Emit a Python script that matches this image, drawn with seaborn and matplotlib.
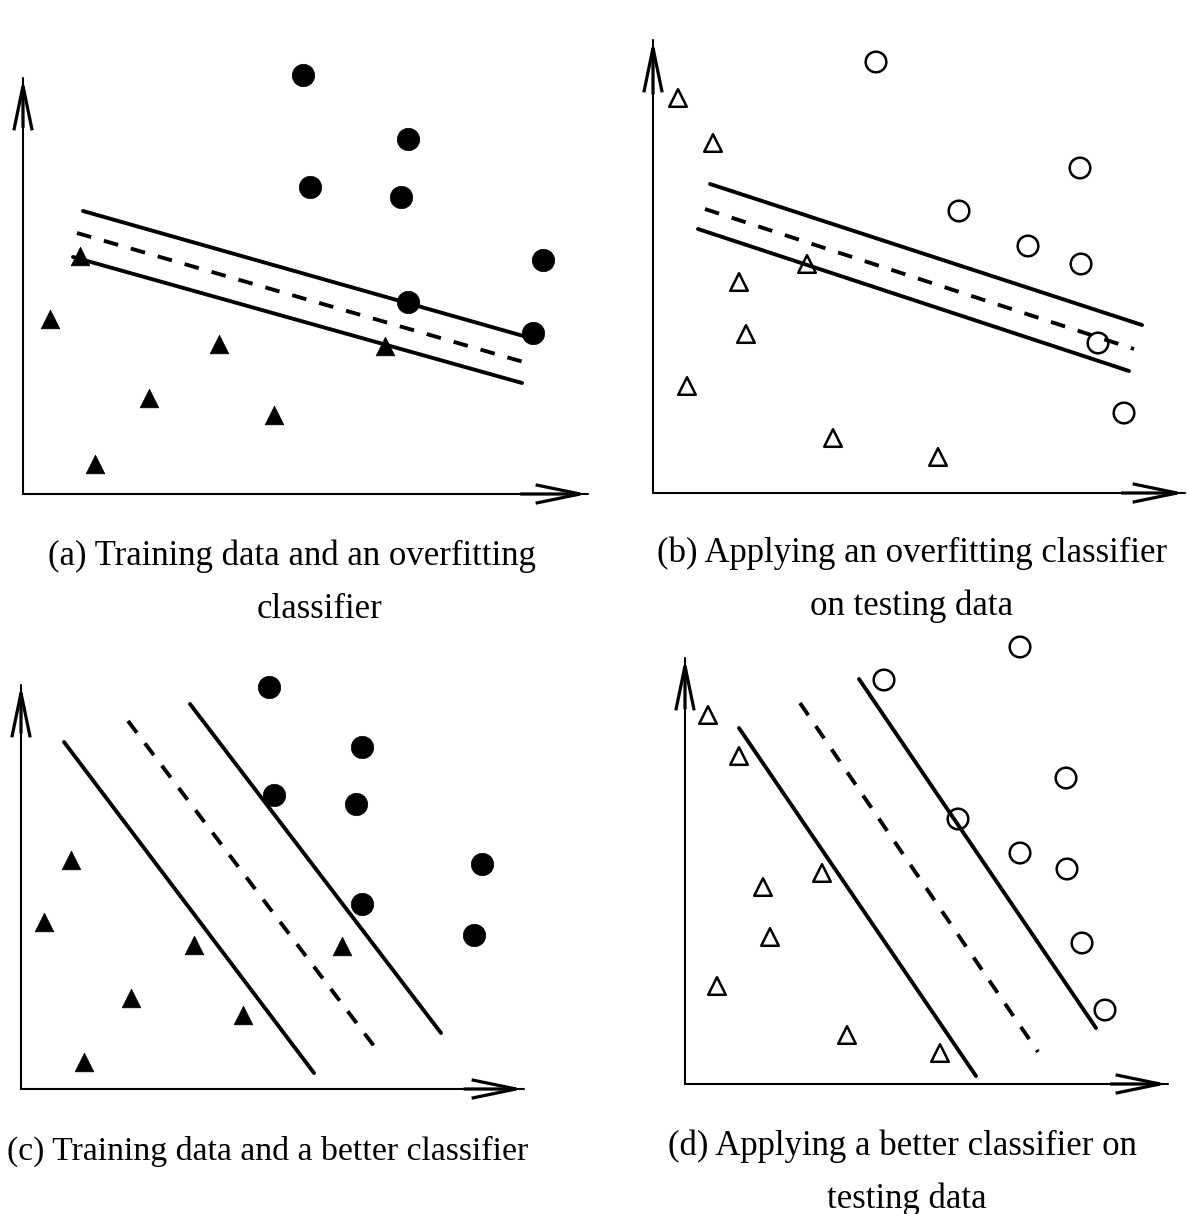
import numpy as np
import pandas as pd
import matplotlib
matplotlib.use("Agg")
import matplotlib.pyplot as plt
import seaborn as sns

# ---------------------------------------------------------------------------
# Data: two classes (circles = positive, triangles = negative) per panel,
# plus the classifier (dashed) and its two margin lines (solid).
# ---------------------------------------------------------------------------

# (a) training data, overfitting classifier
a_pos_x = [280, 385, 287, 378, 520, 385, 510]
a_pos_y = [419, 355, 307, 297, 234, 192, 161]
a_neg_x = [57, 27, 196, 126, 362, 251, 72]
a_neg_y = [238, 175, 150, 96, 148, 79, 30]
a_upper_x, a_upper_y = [60, 504], [283, 157]
a_mid_x, a_mid_y = [54, 504], [261, 131]
a_lower_x, a_lower_y = [50, 499], [237, 111]

# (b) testing data, overfitting classifier
b_pos_x = [223, 427, 306, 375, 428, 445, 471]
b_pos_y = [431, 325, 282, 247, 229, 150, 80]
b_neg_x = [25, 60, 86, 93, 34, 154, 180, 285]
b_neg_y = [395, 350, 211, 159, 107, 229, 55, 36]
b_upper_x, b_upper_y = [57, 489], [309, 168]
b_mid_x, b_mid_y = [52, 481], [284, 144]
b_lower_x, b_lower_y = [45, 476], [264, 122]

# (c) training data, better classifier
c_pos_x = [248, 341, 253, 335, 461, 341, 453]
c_pos_y = [402, 342, 294, 285, 225, 185, 154]
c_neg_x = [50, 23, 173, 110, 321, 222, 63]
c_neg_y = [229, 167, 144, 91, 143, 74, 27]
c_left_x, c_left_y = [43, 293], [347, 16]
c_mid_x, c_mid_y = [107, 356], [368, 39]
c_right_x, c_right_y = [169, 420], [385, 56]

# (d) testing data, better classifier
d_pos_x = [335, 199, 381, 273, 335, 382, 397, 420]
d_pos_y = [437, 404, 306, 265, 231, 215, 141, 74]
d_neg_x = [23, 54, 137, 78, 85, 32, 162, 255]
d_neg_y = [369, 328, 211, 197, 147, 98, 49, 31]
d_left_x, d_left_y = [54, 291], [356, 8]
d_mid_x, d_mid_y = [115, 353], [381, 32]
d_right_x, d_right_y = [174, 411], [405, 56]

captions = {
    "a": ["(a) Training data and an overfitting", "classifier"],
    "b": ["(b) Applying an overfitting classifier", "on testing data"],
    "c": ["(c) Training data and a better classifier"],
    "d": ["(d) Applying a better classifier on", "testing data"],
}

# ---------------------------------------------------------------------------
sns.set_theme(style="white")
plt.rcParams["font.family"] = ["Liberation Serif", "DejaVu Serif"]

W, H = 1187, 1214
fig = plt.figure(figsize=(W / 100, H / 100), dpi=100)
fig.patch.set_facecolor("white")


def make_axes(ox, oy, xlen, ylen):
    ax = fig.add_axes([ox / W, 1 - oy / H, xlen / W, ylen / H])
    ax.set_xlim(0, xlen)
    ax.set_ylim(0, ylen)
    ax.axis("off")
    # plain axis shafts
    ax.annotate("", xy=(0, 1), xytext=(0, 0), xycoords="axes fraction",
                arrowprops=dict(arrowstyle="-", lw=1.5, color="black",
                                shrinkA=0, shrinkB=0))
    ax.annotate("", xy=(1, 0), xytext=(0, 0), xycoords="axes fraction",
                arrowprops=dict(arrowstyle="-", lw=1.5, color="black",
                                shrinkA=0, shrinkB=0))
    # heavier open arrow heads
    head = "->,head_length=1.6,head_width=0.33"
    for tip, start in [((0, 1), (0, 0.88)), ((1, 0), (0.88, 0))]:
        ax.annotate("", xy=tip, xytext=start, xycoords="axes fraction",
                    arrowprops=dict(arrowstyle=head, lw=2.3, color="black",
                                    mutation_scale=20, shrinkA=0, shrinkB=0,
                                    joinstyle="miter", capstyle="butt"))
    return ax


def draw_line(ax, xs, ys, dashed=False):
    ls = (0, (3.8, 3.4)) if dashed else "-"
    sns.lineplot(x=xs, y=ys, ax=ax, color="black", lw=2.8, linestyle=ls,
                 clip_on=False, legend=False)


def draw_points(ax, xs, ys, marker, size, filled):
    sns.scatterplot(x=xs, y=ys, ax=ax, marker=marker, s=size, color="black",
                    clip_on=False, legend=False)
    pc = ax.collections[-1]
    if filled:
        pc.set_facecolor("black")
        pc.set_edgecolor("black")
        pc.set_linewidth(0.5)
    else:
        pc.set_facecolor("none")
        pc.set_edgecolor("black")
        pc.set_linewidth(1.8)


# (a)
ax = make_axes(23, 494, 565, 416)
draw_line(ax, a_upper_x, a_upper_y)
draw_line(ax, a_mid_x, a_mid_y, dashed=True)
draw_line(ax, a_lower_x, a_lower_y)
draw_points(ax, a_pos_x, a_pos_y, "o", 260, True)
draw_points(ax, a_neg_x, a_neg_y, "^", 180, True)

# (b)
ax = make_axes(653, 493, 532, 453)
draw_line(ax, b_upper_x, b_upper_y)
draw_line(ax, b_mid_x, b_mid_y, dashed=True)
draw_line(ax, b_lower_x, b_lower_y)
draw_points(ax, b_pos_x, b_pos_y, "o", 220, False)
draw_points(ax, b_neg_x, b_neg_y, "^", 160, False)

# (c)
ax = make_axes(21, 1089, 503, 404)
draw_line(ax, c_left_x, c_left_y)
draw_line(ax, c_mid_x, c_mid_y, dashed=True)
draw_line(ax, c_right_x, c_right_y)
draw_points(ax, c_pos_x, c_pos_y, "o", 260, True)
draw_points(ax, c_neg_x, c_neg_y, "^", 180, True)

# (d)
ax = make_axes(685, 1084, 483, 426)
draw_line(ax, d_left_x, d_left_y)
draw_line(ax, d_mid_x, d_mid_y, dashed=True)
draw_line(ax, d_right_x, d_right_y)
draw_points(ax, d_pos_x, d_pos_y, "o", 220, False)
draw_points(ax, d_neg_x, d_neg_y, "^", 160, False)

# Captions below each panel
caption_pos = {
    "a": [(292, 556), (320, 610)],
    "b": [(912, 553), (912, 606)],
    "c": [(268, 1151)],
    "d": [(902, 1146), (907, 1199)],
}
caption_size = {"a": 25, "b": 25, "c": 24.3, "d": 25}
for key, lines in captions.items():
    for text, (px, py) in zip(lines, caption_pos[key]):
        fig.text(px / W, 1 - py / H, text, ha="center", va="center",
                 fontsize=caption_size[key], color="black")

fig.savefig("out.png", dpi=100, facecolor="white")
